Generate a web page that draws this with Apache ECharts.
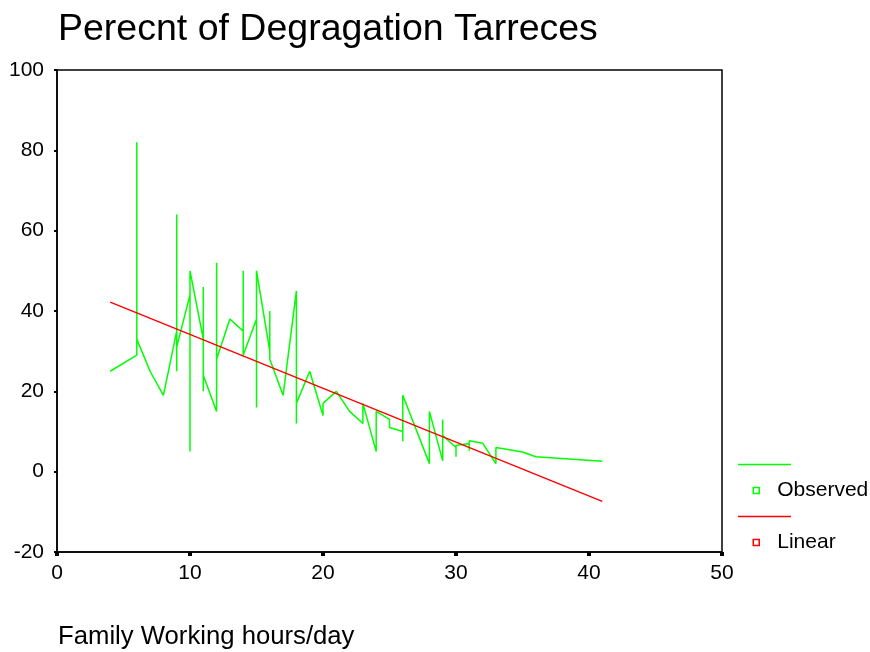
<!DOCTYPE html>
<html>
<head>
<meta charset="utf-8">
<title>Perecnt of Degragation Tarreces</title>
<script src="https://cdn.jsdelivr.net/npm/echarts@6/dist/echarts.min.js"></script>
<style>
    html, body { margin: 0; padding: 0; background: #fff; }
    #chart { width: 870px; height: 652px; }
</style>
</head>
<body>
<div id="chart"></div>
<script>
// observed points, in the order SPSS joins them (sorted by hours)
const observedHours = [4, 6, 6, 6, 7, 8, 9, 9, 9, 9, 10, 10, 10, 11, 11, 11, 11, 12, 12, 12, 13,
    14, 14, 14, 15, 15, 15, 16, 16, 16, 17, 18, 18, 18, 19, 20, 20, 21, 22, 23, 23, 24, 24,
    25, 25, 26, 26, 26, 28, 28, 29, 29, 29, 30, 30, 30, 31, 31, 31, 32, 33, 33, 35, 36, 41]
const observedPercent = [25, 29, 82, 33, 25, 19, 35, 64, 25, 31, 44, 5, 50, 33, 46, 20, 24, 15, 52, 28, 38,
    35, 50, 29, 38, 16, 50, 30, 40, 28, 19, 45, 12, 17, 25, 14, 17, 20, 15, 12, 17, 5, 15,
    13, 11, 10, 7.6, 19, 2, 15, 2.7, 13, 9, 6, 3.7, 6.5, 7, 5.2, 7.7, 7.1, 2, 6, 4.9, 3.7, 2.6]
// linear fit, read at both ends of the observed range
const linearHours = [4, 41]
const linearPercent = [42.2, -7.4]

const green = '#00ff00'
const red = '#ff0000'
const font = 'Liberation Sans, Arial, sans-serif'

var myChart = echarts.init(document.getElementById('chart'), null, { renderer: 'canvas' })

var option = {
    animation: false,
    backgroundColor: '#fff',
    title: [
        {
            text: 'Perecnt of Degragation Tarreces',
            left: 53,
            top: 6,
            textStyle: { fontFamily: font, fontSize: 37.5, fontWeight: 'normal', color: '#000' },
        },
        {
            // axis title sits far below the axis, left aligned
            text: 'Family Working hours/day',
            left: 53,
            top: 618.5,
            textStyle: { fontFamily: font, fontSize: 25.7, fontWeight: 'normal', color: '#000' },
        },
    ],
    legend: {
        orient: 'vertical',
        left: 747.5,
        top: 475,
        itemWidth: 6,
        itemHeight: 6,
        itemGap: 31,
        icon: 'rect',
        textStyle: { fontFamily: font, fontSize: 21, color: '#000', padding: [0, 0, 0, 13] },
        data: [
            { name: 'Observed', itemStyle: { color: '#fff', borderColor: green, borderWidth: 1.5 } },
            { name: 'Linear', itemStyle: { color: '#fff', borderColor: red, borderWidth: 1.5 } },
        ],
    },
    // line samples above each legend entry
    graphic: [
        { type: 'line', shape: { x1: 738, y1: 464.5, x2: 791, y2: 464.5 }, style: { stroke: green, lineWidth: 1.5 } },
        { type: 'line', shape: { x1: 738, y1: 516.5, x2: 791, y2: 516.5 }, style: { stroke: red, lineWidth: 1.5 } },
    ],
    grid: {
        left: 57,
        right: 148,
        top: 70,
        bottom: 100,
        show: true,
        borderColor: '#000',
        borderWidth: 1.5,
        backgroundColor: '#fff',
    },
    xAxis: {
        type: 'value',
        min: 0,
        max: 50,
        interval: 10,
        axisLine: { show: true, onZero: false, lineStyle: { color: '#000', width: 1.5 } },
        axisTick: { show: true, length: 4, lineStyle: { color: '#000', width: 4 } },
        axisLabel: { fontFamily: font, fontSize: 21, color: '#000', margin: 11 },
        splitLine: { show: false },
    },
    yAxis: {
        type: 'value',
        min: -20,
        max: 100,
        interval: 20,
        axisLine: { show: true, onZero: false, lineStyle: { color: '#000', width: 1.5 } },
        axisTick: { show: true, length: 3, lineStyle: { color: '#000', width: 2 } },
        axisLabel: { fontFamily: font, fontSize: 21, color: '#000', margin: 13 },
        splitLine: { show: false },
    },
    series: [
        {
            name: 'Observed',
            type: 'line',
            showSymbol: false,
            symbol: 'rect',
            lineStyle: { color: green, width: 1.5 },
            itemStyle: { color: green },
            data: observedHours.map((h, i) => [h, observedPercent[i]]),
        },
        {
            name: 'Linear',
            type: 'line',
            showSymbol: false,
            symbol: 'rect',
            lineStyle: { color: red, width: 1.5 },
            itemStyle: { color: red },
            data: linearHours.map((h, i) => [h, linearPercent[i]]),
        },
    ],
}

myChart.setOption(option)
</script>
</body>
</html>
